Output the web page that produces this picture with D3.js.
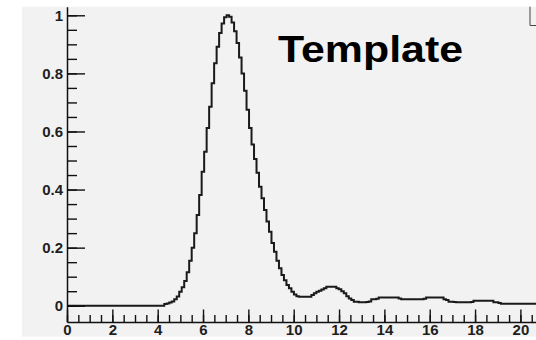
<!DOCTYPE html>
<html>
<head>
<meta charset="utf-8">
<script src="https://cdn.jsdelivr.net/npm/d3@7"></script>
<style>
  html, body { margin: 0; padding: 0; background: #ffffff; }
  svg { display: block; }
</style>
</head>
<body>
<svg id="chart" width="536" height="340"></svg>
<script>
// Histogram binning: fixed-width bins starting at x = 0
const binWidth = 0.11;

// Bin contents (normalised so the maximum bin is 1)
const counts = [
  0, 0, 0, 0, 0, 0, 0, 0, 0, 0,
  0, 0, 0, 0, 0, 0, 0, 0, 0, 0,
  0, 0, 0, 0, 0, 0, 0, 0, 0, 0,
  0, 0, 0, 0, 0, 0, 0, 0, 0,
  0.006, 0.008, 0.011, 0.015, 0.022, 0.032, 0.048, 0.064, 0.085, 0.115,
  0.155, 0.2, 0.25, 0.312, 0.381, 0.461, 0.53, 0.612, 0.685, 0.766,
  0.835, 0.892, 0.939, 0.972, 0.993, 1.0, 0.995, 0.975, 0.945, 0.905,
  0.855, 0.8, 0.74, 0.675, 0.612, 0.555, 0.505, 0.458, 0.41, 0.37,
  0.33, 0.29, 0.255, 0.216, 0.186, 0.155, 0.129, 0.106, 0.088, 0.071,
  0.06, 0.048, 0.039, 0.033,
  0.031, 0.031, 0.031, 0.031, 0.031,
  0.037, 0.043, 0.048, 0.052, 0.056, 0.06,
  0.065, 0.065, 0.065, 0.065,
  0.06, 0.057, 0.05, 0.043, 0.033, 0.025, 0.02, 0.014, 0.014, 0.012,
  0.012, 0.012, 0.013, 0.015, 0.022, 0.022, 0.024,
  0.028, 0.028, 0.028, 0.028, 0.028, 0.028, 0.028, 0.028,
  0.025,
  0.022, 0.022, 0.022, 0.022, 0.022, 0.022, 0.022, 0.022, 0.022,
  0.024,
  0.028, 0.028, 0.028, 0.028, 0.028, 0.028, 0.028,
  0.022, 0.02, 0.014, 0.014, 0.013,
  0.012, 0.012, 0.012, 0.012, 0.012, 0.012,
  0.013,
  0.017, 0.017, 0.017, 0.017, 0.017, 0.017, 0.017, 0.017,
  0.012, 0.012, 0.009,
  0.007, 0.007, 0.007, 0.007, 0.007, 0.007, 0.007, 0.007, 0.007, 0.007,
  0.007, 0.007, 0.007, 0.007, 0.007
];

// Axis ranges and tick marks
const xDomain = [0, 22];
const yDomain = [-0.056, 1.0296];
const xMajorTicks = [0, 2, 4, 6, 8, 10, 12, 14, 16, 18, 20];
const xMinorTicks = d3.range(0, 22.01, 0.5);
const yMajorTicks = [0, 0.2, 0.4, 0.6, 0.8, 1];
const yMinorTicks = d3.range(0, 1.001, 0.05);
const titleText = "Template";

const W = 536, H = 340;
const frame = { left: 67, top: 6.7, bottom: 322 };
const pxPerUnit = 22.67;
const labelFont = "'Liberation Sans', Arial, sans-serif";

const svg = d3.select("#chart");

// pad background
svg.append("rect")
  .attr("x", 22).attr("y", 6.7)
  .attr("width", W - 22).attr("height", 330)
  .attr("fill", "#f2f2f2");

const x = d3.scaleLinear()
  .domain(xDomain)
  .range([frame.left, frame.left + (xDomain[1] - xDomain[0]) * pxPerUnit]);
const y = d3.scaleLinear()
  .domain(yDomain)
  .range([frame.bottom, frame.top]);

svg.append("clipPath").attr("id", "frameClip")
  .append("rect")
  .attr("x", frame.left).attr("y", 0)
  .attr("width", W - frame.left).attr("height", frame.bottom);

// step outline of the histogram
const pts = [];
counts.forEach((c, i) => {
  pts.push([i * binWidth, c]);
  pts.push([(i + 1) * binWidth, c]);
});
svg.append("path")
  .attr("clip-path", "url(#frameClip)")
  .attr("d", d3.line().x(d => x(d[0])).y(d => y(d[1]))(pts))
  .attr("fill", "none")
  .attr("stroke", "#1a1a1a")
  .attr("stroke-width", 2)
  .attr("stroke-linejoin", "miter");

function styleAxis(g) {
  g.selectAll("path, line").attr("stroke", "#111");
  g.select(".domain").attr("stroke-width", 1.5);
  g.selectAll(".tick line").attr("stroke-width", 1.4);
  g.selectAll(".tick text")
    .attr("font-family", labelFont)
    .attr("font-weight", "bold")
    .attr("font-size", 15)
    .attr("fill", "#1e1e1e");
}

// y axis: minor ticks, then major ticks with labels
svg.append("g")
  .attr("transform", `translate(${frame.left},0)`)
  .call(d3.axisLeft(y).tickValues(yMinorTicks).tickSize(-10).tickSizeOuter(0).tickFormat(""))
  .call(styleAxis);

svg.append("g")
  .attr("transform", `translate(${frame.left},0)`)
  .call(d3.axisLeft(y).tickValues(yMajorTicks).tickSize(-18).tickSizeOuter(0).tickPadding(4)
    .tickFormat(d => d3.format("~g")(d)))
  .call(styleAxis)
  .call(g => g.select(".domain").remove());

// x axis
svg.append("g")
  .attr("transform", `translate(0,${frame.bottom})`)
  .call(d3.axisBottom(x).tickValues(xMinorTicks).tickSize(-7).tickSizeOuter(0).tickFormat(""))
  .call(styleAxis);

svg.append("g")
  .attr("transform", `translate(0,${frame.bottom})`)
  .call(d3.axisBottom(x).tickValues(xMajorTicks).tickSize(-12.5).tickSizeOuter(0).tickPadding(2))
  .call(styleAxis)
  .call(g => g.select(".domain").remove());

// corner of the box at the top right
svg.append("path")
  .attr("d", `M530,6.7 V25.5 H540`)
  .attr("fill", "none")
  .attr("stroke", "#444")
  .attr("stroke-width", 1);

// title
svg.append("text")
  .attr("x", 278).attr("y", 62)
  .attr("font-family", labelFont)
  .attr("font-weight", "bold")
  .attr("font-size", 36)
  .attr("textLength", 185)
  .attr("lengthAdjust", "spacingAndGlyphs")
  .attr("fill", "#000")
  .text(titleText);
</script>
</body>
</html>
